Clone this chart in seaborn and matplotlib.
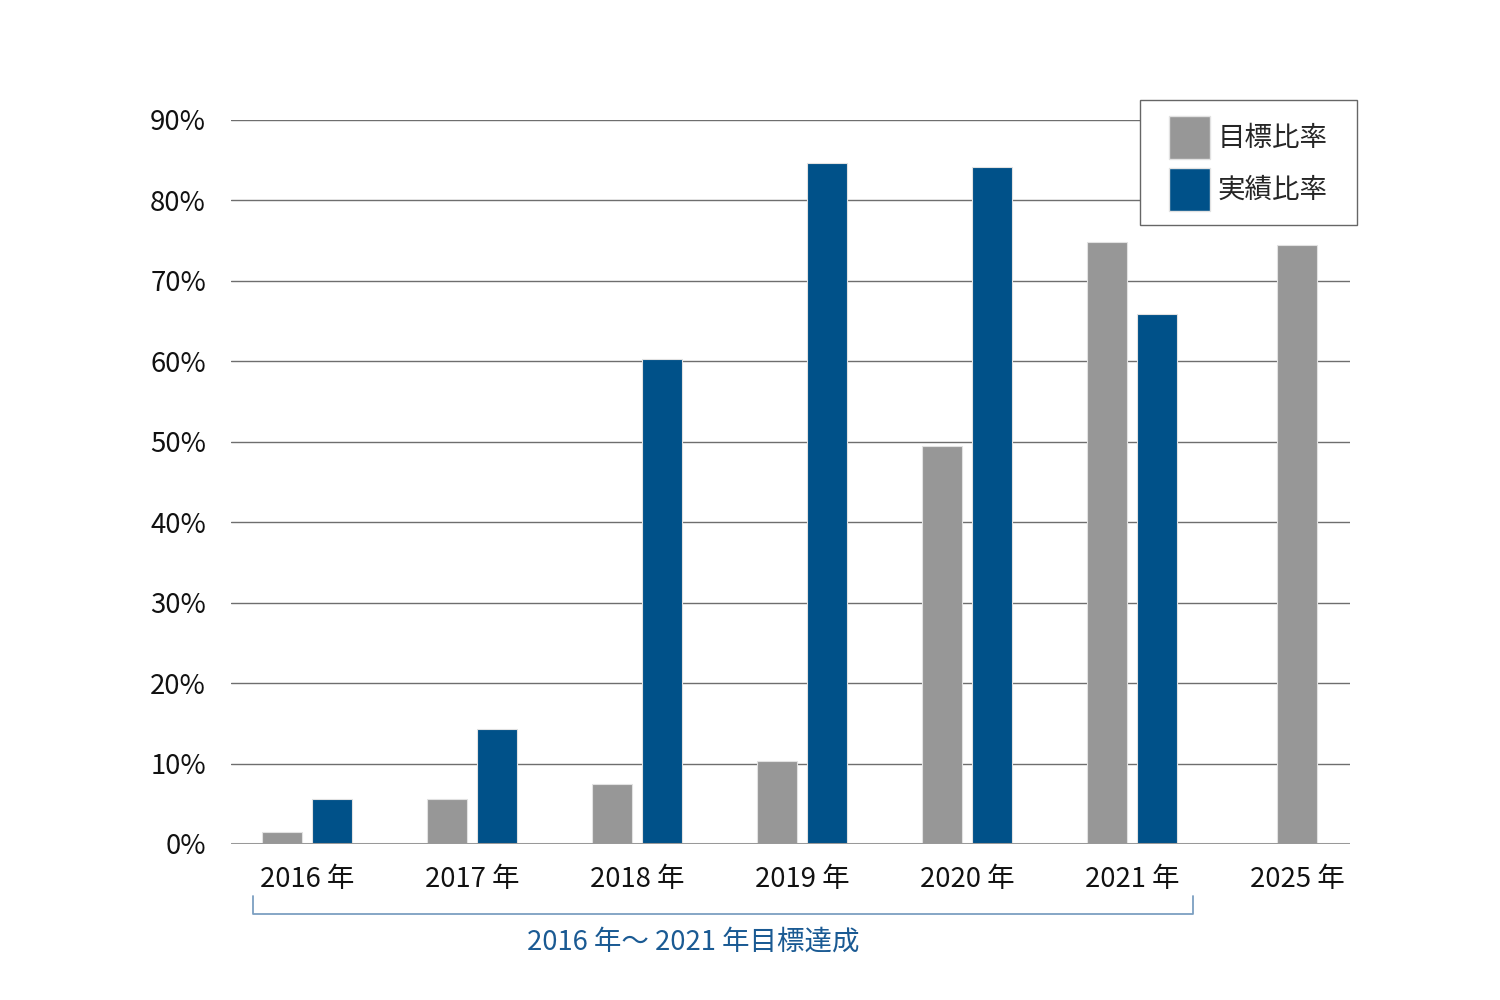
import matplotlib
matplotlib.use("Agg")
import matplotlib.pyplot as plt
from matplotlib.lines import Line2D
from matplotlib.patches import Patch, Rectangle
from matplotlib.ticker import FuncFormatter
import pandas as pd
import seaborn as sns

# Data (ratios in %)
years = ["2016 年", "2017 年", "2018 年", "2019 年", "2020 年", "2021 年", "2025 年"]
target_years = ["2016 年", "2017 年", "2018 年", "2019 年", "2020 年", "2021 年"]
target_ratio = [1.5, 5.6, 7.4, 10.3, 49.5, 74.8]
actual_ratio = [5.6, 14.3, 60.3, 84.7, 84.2, 65.9]
goal_year = ["2025 年"]
goal_ratio = [74.5]
series_names = ["目標比率", "実績比率"]
y_ticks = [0, 10, 20, 30, 40, 50, 60, 70, 80, 90]
span_label = "2016 年～ 2021 年目標達成"

GRAY = "#979797"
BLUE = "#005189"
SPAN_LINE = "#7c9fc1"
SPAN_TEXT = "#1a5a93"
FS = 19.8

sns.set_theme(style="white")
plt.rcParams["font.family"] = ["Noto Sans CJK JP", "DejaVu Sans"]

df = pd.DataFrame({
    "year": target_years * 2,
    "series": [series_names[0]] * len(target_years) + [series_names[1]] * len(target_years),
    "value": target_ratio + actual_ratio,
})
df_goal = pd.DataFrame({"year": goal_year, "value": goal_ratio})

fig = plt.figure(figsize=(15, 10), dpi=100)
ax = fig.add_axes([0.154, 0.156, 0.746, 0.724])

sns.barplot(data=df, x="year", y="value", hue="series", order=years,
            hue_order=series_names, palette=[GRAY, BLUE], saturation=1,
            width=0.612, gap=0.21, edgecolor="#e2e2e2", linewidth=0.8,
            legend=False, ax=ax, zorder=3)
sns.barplot(data=df_goal, x="year", y="value", order=years, color=GRAY,
            saturation=1, width=0.242, edgecolor="#e2e2e2", linewidth=0.8,
            ax=ax, zorder=3)

ax.set_ylim(0, 90)
ax.set_xlim(-0.46, 6.32)
ax.set_yticks(y_ticks)
ax.yaxis.set_major_formatter(FuncFormatter(lambda v, p: f"{v:.0f}%"))
ax.set_xlabel("")
ax.set_ylabel("")
for s in ax.spines.values():
    s.set_visible(False)

# horizontal gridlines
for t in y_ticks[1:]:
    ax.axhline(t, color="#6e6e6e", linewidth=1.0, zorder=1)
ax.axhline(0, color="#999999", linewidth=2.2, zorder=4)

ax.tick_params(axis="y", length=0, pad=18, labelsize=FS, labelcolor="#111111")
ax.tick_params(axis="x", length=0, pad=16, labelsize=FS, labelcolor="#111111")

# legend with a separately drawn frame
handles = [Patch(facecolor=GRAY, edgecolor="#e2e2e2"), Patch(facecolor=BLUE, edgecolor="#e2e2e2")]
fig.legend(handles, series_names, loc="upper left", bbox_to_anchor=(1169 / 1500, 1 - 116 / 1000),
           fontsize=FS, frameon=False, handlelength=1.5, handleheight=2.05,
           labelspacing=0.3, handletextpad=0.25, borderpad=0, borderaxespad=0)
fig.add_artist(Rectangle((1140 / 1500, 1 - 225 / 1000), 217 / 1500, 125 / 1000,
                         transform=fig.transFigure, facecolor="white",
                         edgecolor="#666666", linewidth=1.0, zorder=0.5))

# bracket marking the achieved period
bx0, bx1, by_top, by_bot = 253 / 1500, 1193 / 1500, 0.104, 0.086
fig.add_artist(Line2D([bx0, bx0, bx1, bx1], [by_top, by_bot, by_bot, by_top],
                      color=SPAN_LINE, linewidth=1.3))
fig.text(0.462, 0.058, span_label, ha="center", va="center", fontsize=FS, color=SPAN_TEXT)

fig.savefig("out.png", dpi=100, facecolor="white")
